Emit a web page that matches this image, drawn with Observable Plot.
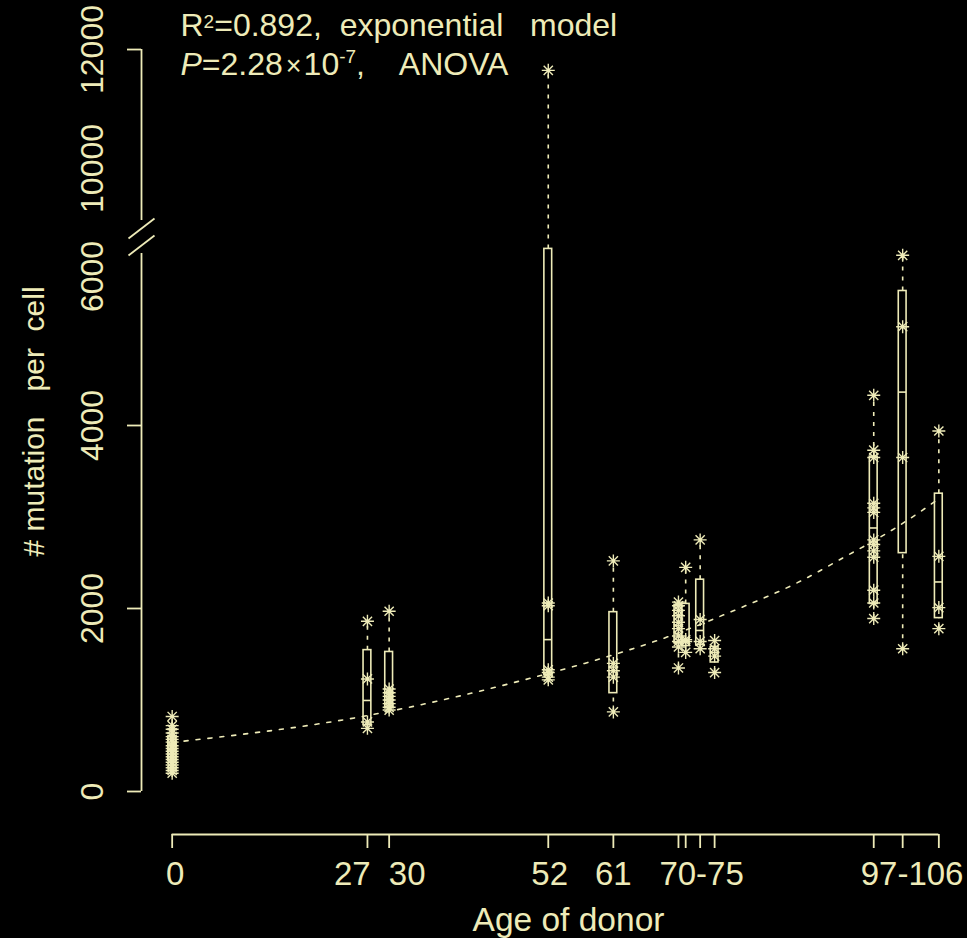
<!DOCTYPE html>
<html>
<head>
<meta charset="utf-8">
<script src="https://cdn.jsdelivr.net/npm/d3@7"></script>
<script src="https://cdn.jsdelivr.net/npm/@observablehq/plot@0.6"></script>
<style>
  html, body { margin: 0; padding: 0; background: #000; overflow: hidden; }
  #chart svg text { white-space: pre; }
</style>
</head>
<body>
<div id="chart"></div>
<script>
// ---------------- data ----------------
const ages = [0, 27, 30, 52, 61, 70, 71, 73, 75, 97, 101, 106];
const boxQ1     = [340, 725, 910, 1275, 1075, 1620, 1590, 1600, 1410, 2050, 2605, 1895];
const boxMedian = [460, 995, 1005, 1660, 1360, 1815, 1650, 1760, 1520, 2880, 4365, 2290];
const boxQ3     = [600, 1545, 1525, 5930, 1960, 2040, 2050, 2315, 1580, 3660, 5470, 3255];
const whiskerLow  = [200, 690, 890, 1220, 870, 1350, 1520, 1560, 1300, 1890, 1560, 1780];
const whiskerHigh = [820, 1860, 1970, 11650, 2520, 2070, 2450, 2750, 1650, 4330, 5860, 3940];
const cellValues = [
  [820, 720, 680, 640, 600, 570, 540, 500, 470, 440, 410, 380, 350, 320, 290, 260, 230, 200],
  [690, 760, 1230, 1860],
  [890, 920, 960, 1000, 1040, 1080, 1120, 1970],
  [1220, 1250, 1300, 1330, 2030, 2060, 11650],
  [870, 1250, 1320, 1400, 2520],
  [1350, 1580, 1640, 1700, 1780, 1850, 1920, 1980, 2030, 2070],
  [1520, 1640, 1660, 2450],
  [1560, 1640, 1880, 2750],
  [1300, 1480, 1560, 1650],
  [1890, 2060, 2200, 2560, 2630, 2700, 2750, 3050, 3100, 3150, 3650, 3730, 4330],
  [1560, 3650, 5080, 5860],
  [1780, 2010, 2570, 3940]
];
// exponential model curve
const fitAges   = [0, 27, 52, 57, 68.5, 77.6, 86.9, 92.9, 100, 104.2, 106];
const fitValues = [536, 830, 1290, 1400, 1690, 1975, 2300, 2560, 2880, 3100, 3200];

const xTickAges = [0, 27, 30, 52, 61, 70, 71, 73, 75, 97, 101, 106];
const xLabelAges = [0.4, 24.9, 32.5, 52.2, 61, 73.2, 102.3];
const xLabelTexts = ["0", "27", "30", "52", "61", "70-75", "97-106"];
const yTickValues = [0, 2000, 4000, 12000];
const yLabelValues = [0, 2000, 4000, 10000, 12000];
const yLabelShifted = [6000];
const yAxisSegments = [[0, 5880], [9125, 12000]];

const title1 = "R2=0.892,  exponential   model";
const title2 = "P=2.28×10-7,    ANOVA";
const xTitle = "Age of donor";
const yTitle = "# mutation   per  cell";

// ---------------- layout / scales ----------------
const W = 967, H = 938;
const color = "#EEEBB8";
const xDom = [-4.24, 110.24], xRange = [141, 969];
const yDom = [0, 4000], yRange = [791, 425];
const pxPerYear = (xRange[1] - xRange[0]) / (xDom[1] - xDom[0]);
const pxPerUnit = (yRange[0] - yRange[1]) / (yDom[1] - yDom[0]);
const axisX = xDom[0];
const yBase = -43 / pxPerUnit;       // x axis sits 43px below zero
// broken axis: values above the break are on a compressed upper segment
const breakAt = 7000, upperRef = 12000, upperRefDisp = 8109, upperFactor = 0.65;
const gapY = v => v <= breakAt ? v : upperRefDisp - (upperRef - v) * upperFactor;

const boxes = ages.map((a, i) => ({
  age: a, q1: boxQ1[i], med: boxMedian[i], q3: boxQ3[i], lo: whiskerLow[i], hi: whiskerHigh[i]
}));
const points = ages.flatMap((a, i) => cellValues[i].map(v => ({age: a, value: v})));
const fit = fitAges.map((a, i) => ({age: a, value: fitValues[i]}));
const hw = 3.9 / pxPerYear;
const tickLenX = 14 / pxPerYear, tickLenY = 14 / pxPerUnit;

// 8-armed asterisk like R's pch = 8
const star8 = {
  draw(ctx, size) {
    const r = Math.sqrt(size / Math.PI), s = r / Math.SQRT2;
    ctx.moveTo(-r, 0); ctx.lineTo(r, 0);
    ctx.moveTo(0, -r); ctx.lineTo(0, r);
    ctx.moveTo(-s, -s); ctx.lineTo(s, s);
    ctx.moveTo(-s, s); ctx.lineTo(s, -s);
  }
};

// break marks "//" on the y axis
const slashDx = 13 / pxPerYear, slashDy = 10 / pxPerUnit;
const breakCenters = [(791 - 228) / pxPerUnit, (791 - 245) / pxPerUnit];
const slashes = breakCenters.map(c => ({x1: axisX - slashDx, y1: c - slashDy, x2: axisX + slashDx, y2: c + slashDy}));

const font = "'Liberation Sans', Arial, Helvetica, sans-serif";

const chart = Plot.plot({
  width: W, height: H,
  marginLeft: 141, marginRight: 0, marginTop: 0, marginBottom: 0,
  style: {background: "#000", color: color, fontFamily: font, overflow: "visible"},
  x: {domain: xDom, range: xRange, axis: null},
  y: {domain: yDom, range: yRange, axis: null},
  marks: [
    // axes lines
    Plot.ruleY([yBase], {x1: () => d3.min(xTickAges), x2: () => d3.max(xTickAges), stroke: color, strokeWidth: 1.8}),
    Plot.ruleX(xTickAges, {x: d => d, y1: () => yBase, y2: () => yBase - tickLenY, stroke: color, strokeWidth: 1.8}),
    Plot.ruleX(yAxisSegments, {x: () => axisX, y1: d => gapY(d[0]), y2: d => gapY(d[1]), stroke: color, strokeWidth: 1.8}),
    Plot.ruleY(yTickValues, {y: d => gapY(d), x1: () => axisX - tickLenX, x2: () => axisX, stroke: color, strokeWidth: 1.8}),
    Plot.link(slashes, {x1: "x1", y1: "y1", x2: "x2", y2: "y2", stroke: color, strokeWidth: 1.8}),
    // fitted exponential model
    Plot.line(fit, {x: "age", y: d => gapY(d.value), curve: "monotone-x", stroke: color, strokeWidth: 1.6, strokeDasharray: "4,8"}),
    // box plots
    Plot.ruleX(boxes, {x: "age", y1: d => gapY(d.q3), y2: d => gapY(d.hi), stroke: color, strokeWidth: 1.6, strokeDasharray: "4,6"}),
    Plot.ruleX(boxes, {x: "age", y1: d => gapY(d.lo), y2: d => gapY(d.q1), stroke: color, strokeWidth: 1.6, strokeDasharray: "4,6"}),
    Plot.rect(boxes, {x1: d => d.age - hw, x2: d => d.age + hw, y1: d => gapY(d.q1), y2: d => gapY(d.q3), fill: "none", stroke: color, strokeWidth: 1.6}),
    Plot.ruleY(boxes, {y: d => gapY(d.med), x1: d => d.age - hw, x2: d => d.age + hw, stroke: color, strokeWidth: 1.6}),
    // individual cells
    Plot.dot(points, {x: "age", y: d => gapY(d.value), r: 6.5, symbol: star8, fill: "none", stroke: color, strokeWidth: 1.4}),
    // y tick labels
    Plot.text(yLabelValues, {x: () => axisX, y: d => gapY(d), text: d => String(d), rotate: -90, dx: -39, textAnchor: "middle", lineAnchor: "bottom", fontSize: 32, fill: color}),
    Plot.text(yLabelShifted, {x: () => axisX, y: d => gapY(d), text: d => String(d), rotate: -90, dx: -39, dy: 34, textAnchor: "middle", lineAnchor: "bottom", fontSize: 32, fill: color}),
    // x tick labels
    Plot.text(xLabelAges, {x: d => d, y: () => yBase, text: (d, i) => xLabelTexts[i], dy: 50, textAnchor: "middle", lineAnchor: "bottom", fontSize: 33, fill: color}),
    // axis titles
    Plot.text([xTitle], {frameAnchor: "bottom", text: d => d, dx: 14, dy: -8, textAnchor: "middle", lineAnchor: "bottom", fontSize: 33.5, fill: color}),
    Plot.text([yTitle], {frameAnchor: "left", text: d => d, rotate: -90, dx: -98, dy: -48, textAnchor: "middle", lineAnchor: "bottom", fontSize: 30, fill: color}),
    // annotation
    Plot.text([title1], {frameAnchor: "top-left", text: d => d, dx: 39, dy: 35, textAnchor: "start", lineAnchor: "bottom", fontSize: 32, fill: color}),
    Plot.text([title2], {frameAnchor: "top-left", text: d => d, dx: 39, dy: 74, textAnchor: "start", lineAnchor: "bottom", fontSize: 32, fill: color})
  ]
});
document.getElementById("chart").appendChild(chart);

// rich text: superscripts and italic P
d3.select(chart).selectAll("text").each(function () {
  const t = d3.select(this);
  const s = this.textContent;
  if (s === title1) {
    t.text(null);
    t.append("tspan").text("R");
    t.append("tspan").attr("font-size", 19).attr("dy", -8).text("2");
    t.append("tspan").attr("dy", 8).text(s.slice(2));
  } else if (s === title2) {
    t.text(null);
    t.append("tspan").attr("font-style", "italic").text("P");
    t.append("tspan").text("=2.28");
    t.append("tspan").attr("font-size", 27).attr("dx", 3).text("×");
    t.append("tspan").attr("dx", 2).text("10");
    t.append("tspan").attr("font-size", 19).attr("dy", -12).text("-7");
    t.append("tspan").attr("dy", 12).text(s.slice(s.indexOf(",")));
  }
});
</script>
</body>
</html>
